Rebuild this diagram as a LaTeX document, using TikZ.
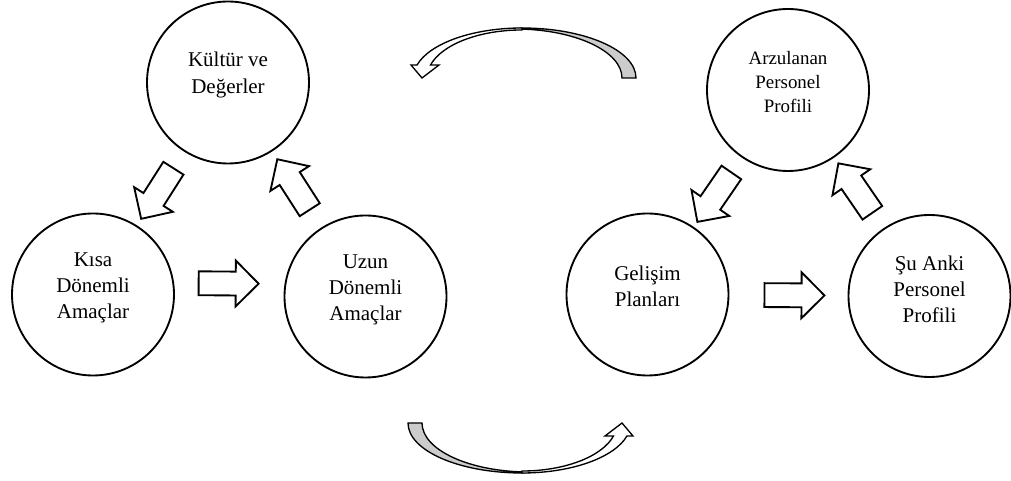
\documentclass[tikz,border=0pt]{standalone}
\usepackage{fontspec}
\setmainfont{Liberation Serif}
\usetikzlibrary{shapes.arrows}

\tikzset{
  konu/.style={circle, draw, line width=1.4pt, minimum size=121.5pt, inner sep=0pt},
  yazi/.style={align=center, font=\fontsize{15.75}{19.8}\selectfont},
  okblok/.style={single arrow, draw, line width=1.4pt, fill=white,
    minimum height=45pt, minimum width=33pt, single arrow head extend=8.25pt,
    single arrow tip angle=90, inner xsep=0pt, inner ysep=8.25pt, sloped, allow upside down},
  pics/donus/.style={code={
    \filldraw[line width=1pt, fill=gray!40] (-114,0) arc[start angle=180, end angle=270, x radius=114, y radius=50]
      -- (7,-49) arc[start angle=270, end angle=180, x radius=107, y radius=49] -- cycle;
    \filldraw[line width=1pt, fill=white] (0,-50) arc[start angle=270, end angle=344.9, x radius=108.7, y radius=50]
      -- (111,-13) -- (100,0) -- (83,-13) -- (91.5,-13)
      arc[start angle=344.3, end angle=270, x radius=95, y radius=48] -- cycle;
  }}
}

\begin{document}
\begin{tikzpicture}[x=0.75pt, y=0.75pt]
  \useasboundingbox (0,0) rectangle (1011,481);

  % sol grup
  \node[konu] (kultur) at (228,398.5) {};
  \node[konu] (kisa) at (93,186.5) {};
  \node[konu] (uzun) at (365.5,184.5) {};
  \node[yazi] (kultur-y) at ([yshift=5.5pt]kultur.center) {Kültür ve\\Değerler};
  \node[yazi] (kisa-y) at ([yshift=5pt]kisa.center) {Kısa\\Dönemli\\Amaçlar};
  \node[yazi] (uzun-y) at ([yshift=5pt]uzun.center) {Uzun\\Dönemli\\Amaçlar};

  % sag grup
  \node[konu] (arzu) at (788,391) {};
  \node[konu] (gelisim) at (647.5,186.5) {};
  \node[konu] (suanki) at (929.5,185) {};
  \node[yazi, font=\fontsize{14.2}{17.8}\selectfont] (arzu-y) at ([yshift=6pt]arzu.center) {Arzulanan\\Personel\\Profili};
  \node[yazi] (gelisim-y) at ([yshift=6pt]gelisim.center) {Gelişim\\Planları};
  \node[yazi] (suanki-y) at ([yshift=5pt]suanki.center) {Şu Anki\\Personel\\Profili};

  % blok oklar
  \path (kultur) -- node[okblok] (ok1) {} (kisa);
  \path (uzun) -- node[okblok] (ok2) {} (kultur);
  \path (kisa) -- node[okblok, xshift=-5pt, yshift=9pt] (ok3) {} (uzun);
  \path (arzu) -- node[okblok] (ok4) {} (gelisim);
  \path (suanki) -- node[okblok] (ok5) {} (arzu);
  \path (gelisim) -- node[okblok] (ok6) {} (suanki);

  % donus oklari
  \pic (alt) at (522,58) {donus};
  \pic[rotate=180] (ust) at (522,403) {donus};
\end{tikzpicture}
\end{document}
